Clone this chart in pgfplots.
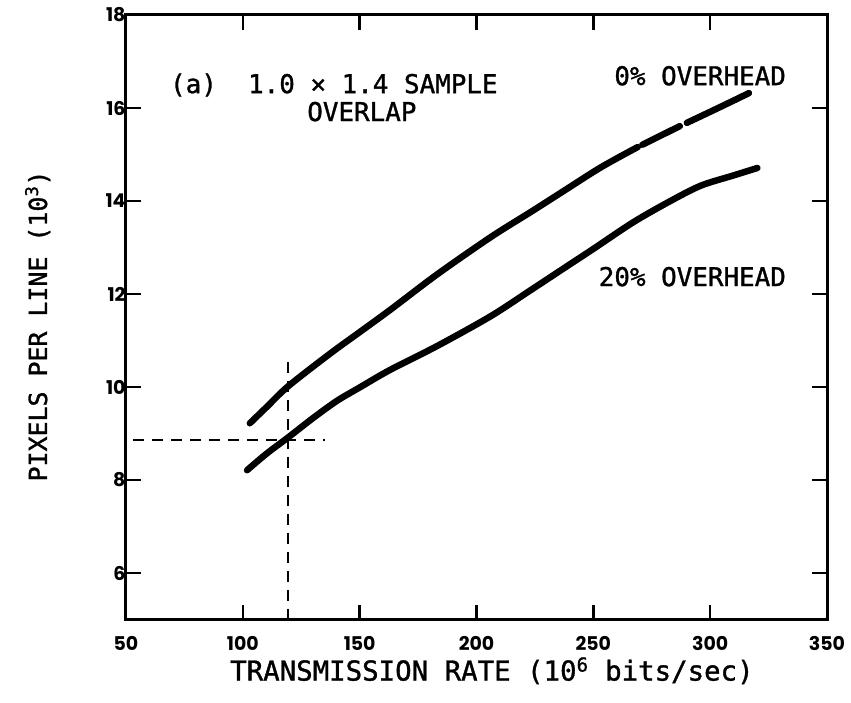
\documentclass[border=0pt]{standalone}
\usepackage{pgfplots}
\pgfplotsset{compat=1.18}
\usepackage{fontspec}
\setmainfont{DejaVu Sans Mono}[FakeBold=1.2]
\newfontfamily\tickfont{Poppins}

% 0% overhead curve, in three pieces
\pgfplotstableread{
x y
103.0 9.22
110.0 9.56
119.5 10.02
137.4 10.72
150.0 11.18
163.1 11.66
183.1 12.42
206.0 13.22
223.1 13.76
235.9 14.17
253.1 14.72
269.0 15.16
}\zeroA
\pgfplotstableread{
x y
271.0 15.21
287.0 15.61
}\zeroB
\pgfplotstableread{
x y
290.0 15.68
303.0 15.99
316.6 16.32
}\zeroC
% 20% overhead curve
\pgfplotstableread{
x y
101.8 8.21
110.0 8.56
119.5 8.92
130.0 9.33
140.2 9.70
150.0 9.99
163.1 10.37
183.1 10.88
206.0 11.52
223.1 12.08
238.8 12.60
250.0 12.97
267.3 13.55
283.0 14.00
296.0 14.33
310.0 14.55
320.2 14.71
}\twenty

\begin{document}
\begin{tikzpicture}
\useasboundingbox (-126bp,-83.5bp) rectangle (725bp,619.5bp);
\begin{axis}[
  scale only axis, width=701bp, height=604.5bp,
  anchor=south west, at={(0,0)},
  xmin=50, xmax=350, ymin=5, ymax=18,
  xtick={50,100,...,350}, ytick={6,8,...,18},
  xticklabels={50,100,150,200,250,300,350},
  yticklabels={6,8,10,12,14,16,18},
  tick align=inside, major tick length=15bp,
  every tick/.style={line width=2.5bp, black},
  axis line style={line width=3bp},
  ticklabel style={font=\tickfont\bfseries\fontsize{19}{19}\selectfont},
  xticklabel style={yshift=-13bp},
  yticklabel style={xshift=3bp},
  xlabel={TRANSMISSION RATE (10\textsuperscript{6} bits/sec)},
  xlabel style={font=\fontsize{27.5}{30}\selectfont,
    at={(axis description cs:0.522,-0.1010)}, anchor=base},
  ylabel={PIXELS PER LINE (10\textsuperscript{3})},
  ylabel style={font=\fontsize{25}{30}\selectfont,
    at={(axis description cs:-0.1127,0.4855)}, anchor=base, rotate=0},
  clip=false,
]
\addplot[line width=6.5bp, line cap=round, black, smooth] table {\zeroA};
\addplot[line width=6.5bp, line cap=round, black, smooth] table {\zeroB};
\addplot[line width=6.5bp, line cap=round, black, smooth] table {\zeroC};
\addplot[line width=6.5bp, line cap=round, black, smooth] table {\twenty};
\addplot[line width=2bp, black, dash pattern=on 11bp off 8bp] coordinates {(119.5,10.54) (119.5,5)};
\addplot[line width=2bp, black, dash pattern=on 11bp off 8bp] coordinates {(53,8.86) (135,8.86)};
\begin{scope}[every node/.style={font=\fontsize{26}{30}\selectfont, inner sep=0pt}]
\node[anchor=base west] at (axis cs:68.8,16.32) {(a)\ \ 1.0 × 1.4 SAMPLE};
\node[anchor=base west] at (axis cs:127.5,15.72) {OVERLAP};
\node[anchor=base east] at (axis cs:332.5,16.49) {0\% OVERHEAD};
\node[anchor=base east] at (axis cs:332.5,12.17) {20\% OVERHEAD};
\end{scope}
\end{axis}
\end{tikzpicture}
\end{document}
